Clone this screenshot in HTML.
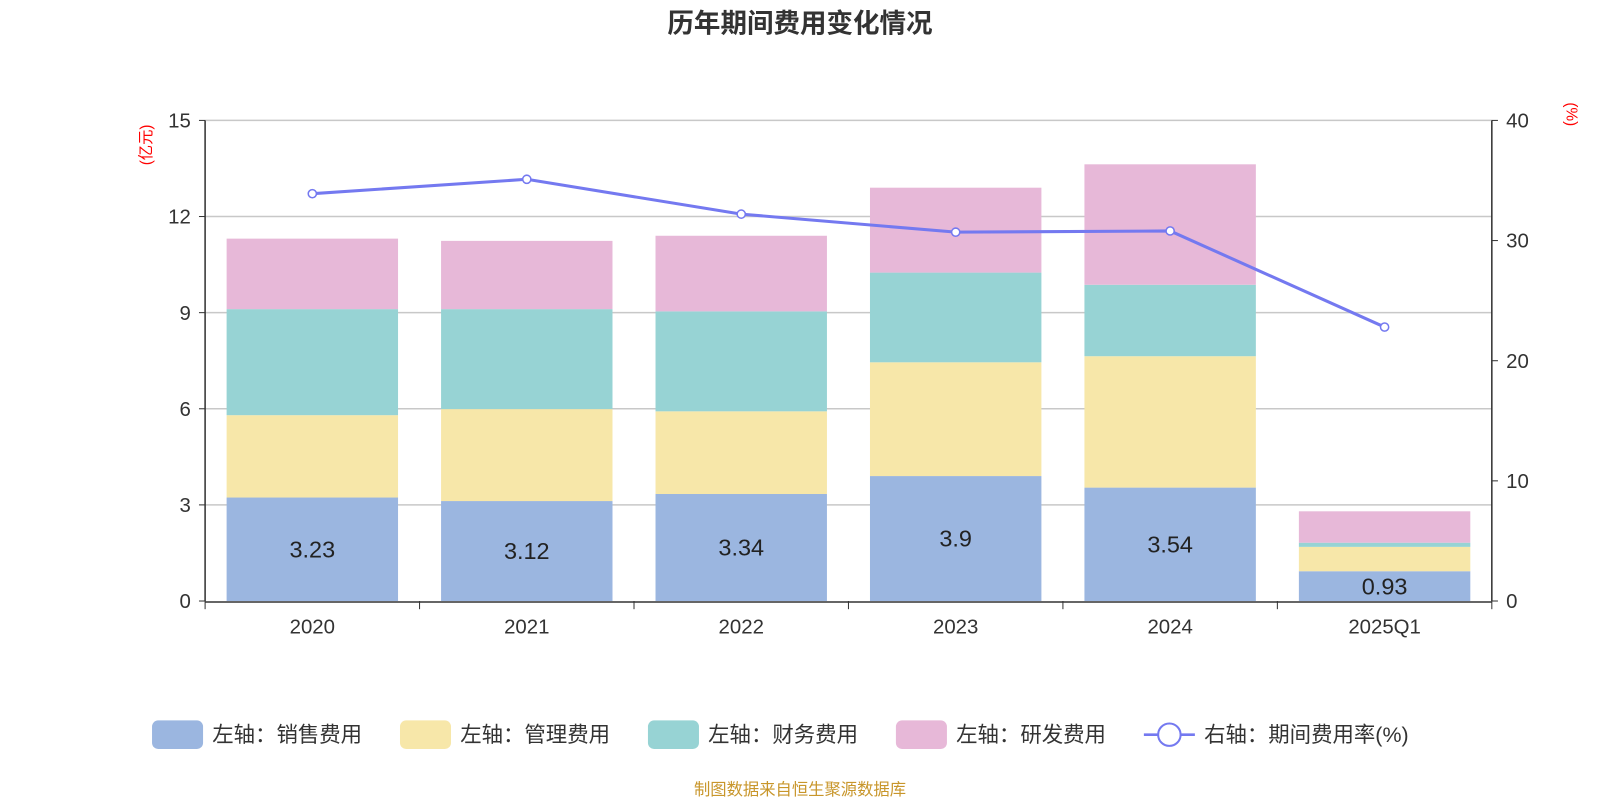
<!DOCTYPE html>
<html><head><meta charset="utf-8">
<style>
body{margin:0;background:#fff;font-family:"Liberation Sans","Noto Sans CJK SC",sans-serif;}
svg text{font-family:"Liberation Sans","Noto Sans CJK SC",sans-serif;}
</style></head>
<body>
<svg id="chart" width="1600" height="800" xmlns="http://www.w3.org/2000/svg">
<g transform="scale(1.0204)">
<text x="784" y="32" text-anchor="middle" font-size="26" font-weight="bold" fill="#333">历年期间费用变化情况</text>
<text x="148" y="142" font-size="15" fill="red" text-anchor="middle" transform="rotate(-90 148 142)">(亿元)</text>
<text x="1535" y="112" font-size="15" fill="red" text-anchor="middle" transform="rotate(90 1535 112)">(%)</text>
<g id="grid"></g><g id="bars"></g><g id="line"></g><g id="axes"></g>
<g font-size="21" fill="#333">
<rect x="149" y="706" width="50" height="28" rx="6" fill="#9bb6e0"/><text x="208" y="727">左轴：销售费用</text>
<rect x="392" y="706" width="50" height="28" rx="6" fill="#f7e7a9"/><text x="451" y="727">左轴：管理费用</text>
<rect x="635" y="706" width="50" height="28" rx="6" fill="#97d3d4"/><text x="694" y="727">左轴：财务费用</text>
<rect x="878" y="706" width="50" height="28" rx="6" fill="#e7b8d8"/><text x="937" y="727">左轴：研发费用</text>
<line x1="1121" y1="720" x2="1171" y2="720" stroke="#7479f0" stroke-width="2.5"/><circle cx="1146" cy="720" r="11" fill="#fff" stroke="#7479f0" stroke-width="2"/><text x="1180" y="727">右轴：期间费用率(%)</text>
</g>
<text x="784" y="779" text-anchor="middle" font-size="16" fill="#c8962b">制图数据来自恒生聚源数据库</text>
</g>
</svg>
<script>
const categories=["2020","2021","2022","2023","2024","2025Q1"];
const sales=[3.23,3.12,3.34,3.9,3.54,0.93];
const mgmt=[2.57,2.87,2.58,3.55,4.10,0.76];
const fin=[3.31,3.12,3.12,2.80,2.23,0.13];
const rd=[2.20,2.13,2.36,2.65,3.76,0.98];
const rate=[33.9,35.1,32.2,30.7,30.8,22.8];
const leftTicks=[0,3,6,9,12,15];
const rightTicks=[0,10,20,30,40];
const NS="http://www.w3.org/2000/svg";
const X0=201,X1=1462,Y0=589,Y1=118;
const yL=v=>Y0-(v/15)*(Y0-Y1);
const yR=v=>Y0-(v/40)*(Y0-Y1);
const bw=(X1-X0)/categories.length;
const xc=i=>X0+bw*(i+0.5);
function mk(tag,attrs,parent){const e=document.createElementNS(NS,tag);for(const k in attrs)e.setAttribute(k,attrs[k]);document.getElementById(parent).appendChild(e);return e;}
leftTicks.forEach(t=>{
 if(t>0){const g=mk('line',{x1:X0,x2:X1,y1:yL(t),y2:yL(t),stroke:'#c8c8c8','stroke-width':1.5},'grid');
 
 }
 mk('line',{x1:X0-6,x2:X0,y1:yL(t),y2:yL(t),stroke:'#333'},'axes');
 const tx=mk('text',{x:X0-14,y:yL(t)+7,'text-anchor':'end','font-size':20,fill:'#333'},'axes');tx.textContent=t;
 
 
});
rightTicks.forEach(t=>{
 mk('line',{x1:X1,x2:X1+6,y1:yR(t),y2:yR(t),stroke:'#333'},'axes');
 const tx=mk('text',{x:X1+14,y:yR(t)+7,'font-size':20,fill:'#333'},'axes');tx.textContent=t;
 
 
});
mk('line',{x1:X0,x2:X0,y1:Y1,y2:Y0,stroke:'#333','stroke-width':1.5},'axes');
mk('line',{x1:X1,x2:X1,y1:Y1,y2:Y0,stroke:'#333','stroke-width':1.5},'axes');
mk('line',{x1:X0,x2:X1,y1:Y0+1,y2:Y0+1,stroke:'#333','stroke-width':1.5},'axes');
for(let i=0;i<=categories.length;i++)mk('line',{x1:X0+bw*i,x2:X0+bw*i,y1:Y0,y2:Y0+8,stroke:'#333'},'axes');
const series=[[sales,'#9bb6e0','sales'],[mgmt,'#f7e7a9','mgmt'],[fin,'#97d3d4','fin'],[rd,'#e7b8d8','rd']];
categories.forEach((c,i)=>{
 const tx=mk('text',{x:xc(i),y:Y0+32,'text-anchor':'middle','font-size':20,fill:'#333'},'axes');tx.textContent=c;
 
 
 let base=0;
 series.forEach(([arr,col,nm])=>{
  const r=mk('rect',{x:xc(i)-84,width:168,y:yL(base+arr[i]),height:yL(base)-yL(base+arr[i]),fill:col},'bars');
  
  
  base+=arr[i];
 });
 const lb=mk('text',{x:xc(i),y:(yL(0)+yL(sales[i]))/2+8,'text-anchor':'middle','font-size':23,fill:'#222'},'bars');
 lb.textContent=sales[i];
 
 
});
const pts=rate.map((v,i)=>xc(i)+','+yR(v)).join(' ');
const pl=mk('polyline',{points:pts,fill:'none',stroke:'#7479f0','stroke-width':3},'line');


rate.forEach((v,i)=>{const p=mk('circle',{cx:xc(i),cy:yR(v),r:4,fill:'#fff',stroke:'#7479f0','stroke-width':1.5},'line');
 
 });
</script>
</body></html>
